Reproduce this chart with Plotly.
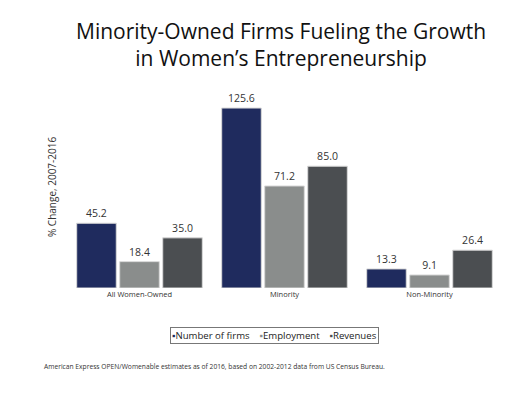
import plotly.graph_objects as go

categories = ["All Women-Owned", "Minority", "Non-Minority"]
series_names = ["Number of firms", "Employment", "Revenues"]
firms = [45.2, 125.6, 13.3]
employment = [18.4, 71.2, 9.1]
revenues = [35.0, 85.0, 26.4]
colors = ["#1f2b5e", "#8a8d8c", "#4b4e51"]

# page body has an 8px margin; positions below are in screen pixels
OFF = 8
W, H = 521 - OFF, 397 - OFF
L, R, T, B = 67 - OFF, 19, 95 - OFF, 109
PW, PH = W - L - R, H - T - B


def px(x):
    return (x - OFF - L) / PW


def py(y):
    return (H - B - (y - OFF)) / PH


fig = go.Figure()
for name, vals, col in zip(series_names, [firms, employment, revenues], colors):
    fig.add_trace(go.Bar(
        x=categories, y=vals, name=name,
        marker=dict(color=col, line=dict(color="#d9d9d9", width=1)),
        text=vals, texttemplate="%{y:.1f}", textposition="outside",
        textfont=dict(family="Open Sans", size=10.5, color="#333333"),
        cliponaxis=False,
    ))

legend_text = "    ".join(
    f"<span style='color:{c}'>▪</span>{n}" for n, c in zip(series_names, colors)
)

fig.update_layout(
    width=W, height=H,
    margin=dict(l=L, r=R, t=T, b=B),
    paper_bgcolor="white", plot_bgcolor="white",
    barmode="group", bargap=0.11, bargroupgap=0.08,
    showlegend=False,
    font=dict(family="Open Sans", color="#222222"),
    xaxis=dict(showline=False, ticks="", showgrid=False, automargin=False,
               tickfont=dict(family="Open Sans", size=7.5, color="#333333")),
    yaxis=dict(range=[0, 134.7], showticklabels=False, showgrid=False,
               zeroline=False, showline=False, automargin=False),
    annotations=[
        dict(text="Minority-Owned Firms Fueling the Growth<br>in Women’s Entrepreneurship",
             showarrow=False, xref="paper", yref="paper",
             x=px(281), y=py(45), xanchor="center", yanchor="middle",
             font=dict(family="Open Sans", size=21, color="#111111")),
        dict(text="% Change, 2007-2016", textangle=-90, showarrow=False,
             xref="paper", yref="paper", x=px(52), y=py(187),
             xanchor="center", yanchor="middle",
             font=dict(family="Open Sans", size=10, color="#333333")),
        dict(text=legend_text, showarrow=False, xref="paper", yref="paper",
             x=px(274.5), y=py(335.5), xanchor="center", yanchor="middle",
             bordercolor="#777777", borderwidth=1, borderpad=1,
             font=dict(family="Open Sans", size=9.6, color="#222222")),
        dict(text="American Express OPEN/Womenable estimates as of 2016, based on 2002-2012 data from US Census Bureau.",
             showarrow=False, xref="paper", yref="paper",
             x=px(42), y=py(366), xanchor="left", yanchor="middle",
             font=dict(family="Open Sans", size=6.7, color="#333333")),
    ],
)

fig.write_html("out.html")
